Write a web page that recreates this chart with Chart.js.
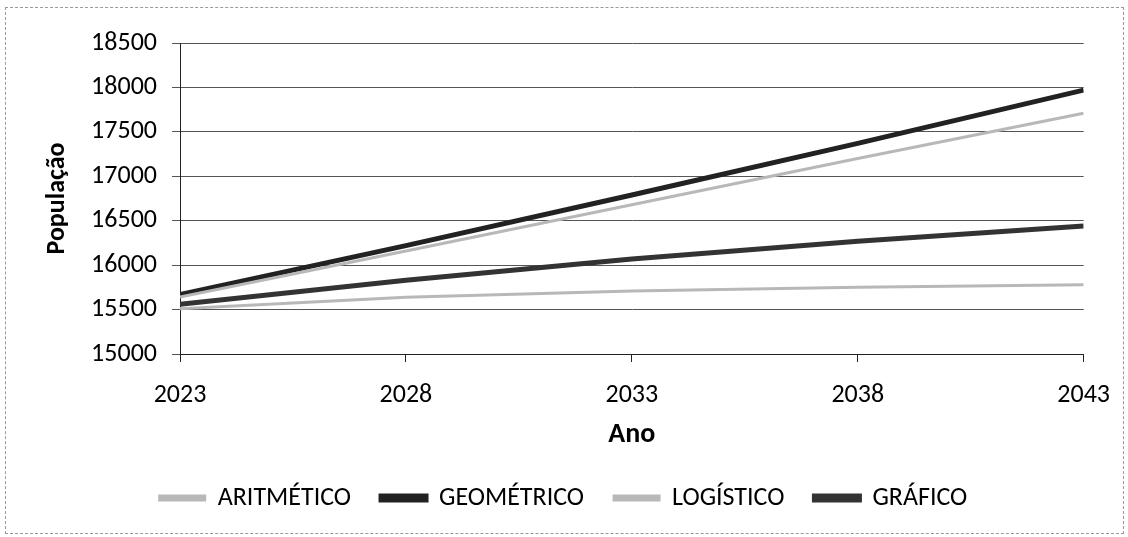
<!DOCTYPE html>
<html>
<head>
<meta charset="utf-8">
<script src="https://cdn.jsdelivr.net/npm/chart.js@4/dist/chart.umd.min.js"></script>
<style>
  html, body { margin: 0; padding: 0; background: #fff; }
  #wrap { position: relative; width: 1128px; height: 537px; }
  #frame { position: absolute; left: 5px; top: 7px; right: 4px; bottom: 3px; border: 1px dashed #9a9a9a; pointer-events: none; }
</style>
</head>
<body>
<div id="wrap">
  <canvas id="popChart"></canvas>
  <div id="frame"></div>
</div>
<script>
// anos e projeções
var anos = [2023, 2028, 2033, 2038, 2043]
var aritmetico = [15640, 16160, 16680, 17200, 17710]
var geometrico = [15670, 16220, 16790, 17370, 17970]
var logistico = [15510, 15640, 15710, 15750, 15780]
var grafico = [15560, 15830, 16070, 16270, 16440]

var yMin = 15000, yMax = 18500, yStep = 500

function pts(vals) {
    var out = []
    for (var i = 0; i < anos.length; i++) {
        out.push({ x: anos[i], y: vals[i] })
    }
    return out
}

var fontFam = "Carlito, Lato, 'Open Sans', sans-serif"

var ctx = document.getElementById("popChart").getContext('2d');
new Chart(ctx, {
    type: 'line',
    data: {
        datasets: [
            { label: "ARITMÉTICO", data: pts(aritmetico), borderColor: '#b8b8b8', backgroundColor: '#b8b8b8', borderWidth: 3 },
            { label: "GEOMÉTRICO", data: pts(geometrico), borderColor: '#222', backgroundColor: '#222', borderWidth: 5 },
            { label: "LOGÍSTICO", data: pts(logistico), borderColor: '#b8b8b8', backgroundColor: '#b8b8b8', borderWidth: 3 },
            { label: "GRÁFICO", data: pts(grafico), borderColor: '#333', backgroundColor: '#333', borderWidth: 5 }
        ]
    },
    options: {
        responsive: true,
        maintainAspectRatio: false,
        animation: false,
        elements: { point: { radius: 0 }, line: { tension: 0 } },
        layout: { padding: { left: 42, right: 43, top: 43, bottom: 16 } },
        plugins: {
            tooltip: { enabled: false },
            legend: {
                position: 'bottom',
                labels: {
                    boxWidth: 45,
                    boxHeight: 4,
                    padding: 30,
                    color: '#000',
                    font: { family: fontFam, size: 26 }
                }
            }
        },
        scales: {
            x: {
                type: 'linear',
                min: anos[0],
                max: anos[anos.length - 1],
                ticks: { stepSize: 5, color: '#000', padding: 18, font: { family: fontFam, size: 26 }, callback: function(v) { return String(v) } },
                grid: { drawOnChartArea: false, drawTicks: true, tickLength: 8, color: '#222' },
                border: { color: '#222', width: 1 },
                title: { display: true, text: 'Ano', color: '#000', font: { family: fontFam, size: 28, weight: 'bold' }, padding: { top: 0, bottom: 3 } },
                afterFit: function(s) { s.height = 101 }
            },
            y: {
                min: yMin,
                max: yMax,
                ticks: { stepSize: yStep, color: '#000', padding: 15, font: { family: fontFam, size: 26 }, callback: function(v) { return String(v) } },
                grid: { color: '#555', tickLength: 8 },
                border: { color: '#222', width: 1 },
                title: { display: true, text: 'População', color: '#000', font: { family: fontFam, size: 26, weight: 'bold' }, padding: 0 },
                afterFit: function(s) { s.width = 138 }
            }
        }
    }
});
</script>
</body>
</html>
